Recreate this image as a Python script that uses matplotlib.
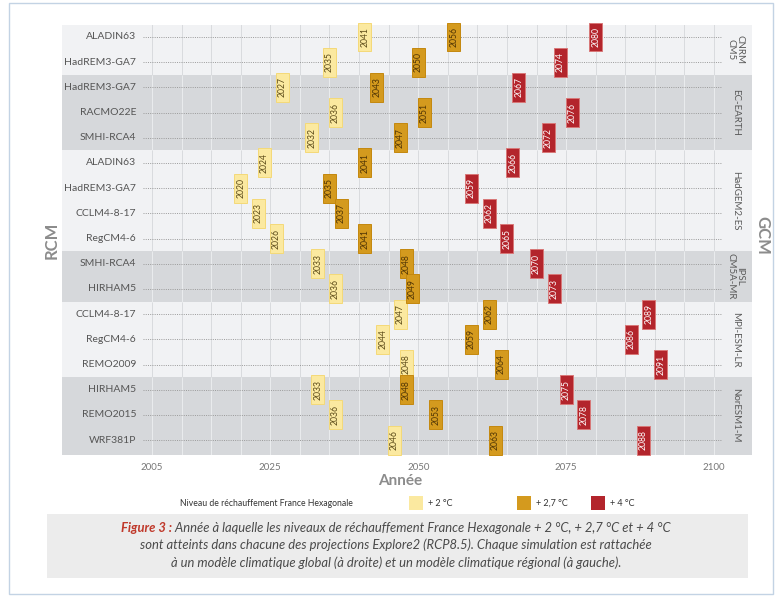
import matplotlib
matplotlib.use("Agg")
import matplotlib.pyplot as plt
from matplotlib.patches import Rectangle

plt.rcParams['font.family'] = ['Lato', 'DejaVu Sans']

# regional models (one per row, top to bottom)
rcm = ["ALADIN63", "HadREM3-GA7", "HadREM3-GA7", "RACMO22E", "SMHI-RCA4",
       "ALADIN63", "HadREM3-GA7", "CCLM4-8-17", "RegCM4-6", "SMHI-RCA4",
       "HIRHAM5", "CCLM4-8-17", "RegCM4-6", "REMO2009", "HIRHAM5",
       "REMO2015", "WRF381P"]
# global models and how many rows each one covers
gcm = ["CNRM\nCM5", "EC-EARTH", "HadGEM2-ES", "IPSL\nCM5A-MR", "MPI-ESM-LR", "NorESM1-M"]
gcm_rows = [2, 3, 4, 2, 3, 3]

year_2 = [2041, 2035, 2027, 2036, 2032, 2024, 2020, 2023, 2026, 2033,
          2036, 2047, 2044, 2048, 2033, 2036, 2046]
year_27 = [2056, 2050, 2043, 2051, 2047, 2041, 2035, 2037, 2041, 2048,
           2049, 2062, 2059, 2064, 2048, 2053, 2063]
year_4 = [2080, 2074, 2067, 2076, 2072, 2066, 2059, 2062, 2065, 2070,
          2073, 2089, 2086, 2091, 2075, 2078, 2088]

levels = ["+ 2 °C", "+ 2,7 °C", "+ 4 °C"]
x_ticks = [2005, 2025, 2050, 2075, 2100]

W, H = 782, 597


def fx(x):
    return x / W


def fy(y):
    return 1 - y / H


fig = plt.figure(figsize=(W / 100, H / 100), dpi=100)
fig.patch.set_facecolor('white')

# outer frame
fig.patches.append(Rectangle((fx(9), fy(594)), fx(764), 591 / H, transform=fig.transFigure,
                             fill=False, ec='#c3d3e4', lw=1.0))

ax = fig.add_axes([fx(62), fy(455), fx(690), 430 / H])
ax.set_xlim(1989.79, 2106.42)
ax.set_ylim(16.59, -0.476)

band_colors = ['#f1f2f4', '#d6d8db']
grid_colors = ['#d9dbde', '#eaecee']
start = 0
for k, n in enumerate(gcm_rows):
    y0 = start - 0.5 if k > 0 else -1
    y1 = start + n - 0.5 if k < len(gcm_rows) - 1 else 17
    ax.axhspan(y0, y1, color=band_colors[k % 2], lw=0, zorder=0)
    ax.vlines(range(2005, 2101, 5), y0, y1, colors=grid_colors[k % 2], lw=0.7, zorder=1)
    ax.text(2103.6, start + (n - 1) / 2, gcm[k], rotation=-90, ha='center', va='center',
            fontsize=7, color='#5a5a5a', linespacing=0.95)
    start += n

rows = list(range(len(rcm)))
ax.hlines(rows, 2003.5, 2101.3, colors='#9a9a9a', linestyles=(0, (1, 1.3)), lw=0.7, zorder=2)
for i, name in enumerate(rcm):
    ax.text(2002.3, i, name, ha='right', va='center', fontsize=7.5, color='#555555')

face = ['#fbe9a0', '#d49a1e', '#b3252c']
edge = ['#f4d978', '#c4880e', '#d87878']
txt = ['#5b4a18', '#4f3405', 'white']
box_w, box_h = 2.2, 1.15
for k, years in enumerate([year_2, year_27, year_4]):
    for i, yr in enumerate(years):
        ax.add_patch(Rectangle((yr - box_w / 2, i - box_h / 2), box_w, box_h,
                               fc=face[k], ec=edge[k], lw=0.7, zorder=4, clip_on=False))
        ax.text(yr, i, str(yr), rotation=90, ha='center', va='center', fontsize=6.2,
                color=txt[k], zorder=5, clip_on=False)

ax.set_xticks(x_ticks)
ax.set_yticks([])
ax.tick_params(axis='x', length=0, labelsize=7, colors='#777777', pad=6)
for s in ax.spines.values():
    s.set_visible(False)

fig.text(fx(400), fy(481), "Année", ha='center', va='center', fontsize=11,
         fontweight='bold', color='#8c8c8c')
fig.text(fx(52), fy(240), "RCM", rotation=90, ha='center', va='center', fontsize=12,
         fontweight='bold', color='#8c8c8c')
fig.text(fx(762), fy(235), "GCM", rotation=-90, ha='center', va='center', fontsize=12,
         fontweight='bold', color='#8c8c8c')

# legend row
fig.text(fx(266), fy(503), "Niveau de réchauffement France Hexagonale", ha='center',
         va='center', fontsize=6.2, color='#333333')
leg_x = [409, 517, 591]
for k, lab in enumerate(levels):
    fig.patches.append(Rectangle((fx(leg_x[k]), fy(510)), fx(14), 14 / H,
                                 transform=fig.transFigure, fc=face[k], ec='none'))
    fig.text(fx(leg_x[k] + 19), fy(503), lab, ha='left', va='center', fontsize=6.5,
             color='#333333')

# caption box
fig.patches.append(Rectangle((fx(47), fy(578)), fx(701), 64 / H, transform=fig.transFigure,
                             fc='#ececec', ec='none'))
cap_kw = dict(fontsize=9.4, style='italic', va='center', color='#4a4a4a')
t1 = fig.text(0, fy(528), "Figure 3 :", color='#c0392b', fontsize=9.4, style='italic',
              fontweight='bold', va='center')
t2 = fig.text(0, fy(528), " Année à laquelle les niveaux de réchauffement France Hexagonale"
              " + 2 °C, + 2,7 °C et + 4 °C", **cap_kw)
fig.canvas.draw()
r = fig.canvas.get_renderer()
w1 = t1.get_window_extent(r).width
w2 = t2.get_window_extent(r).width
x0 = 396 - (w1 + w2) / 2
t1.set_x(fx(x0))
t2.set_x(fx(x0 + w1))
fig.text(fx(396), fy(545), "sont atteints dans chacune des projections Explore2 (RCP8.5)."
         " Chaque simulation est rattachée", ha='center', **cap_kw)
fig.text(fx(396), fy(563), "à un modèle climatique global (à droite) et un modèle"
         " climatique régional (à gauche).", ha='center', **cap_kw)

fig.savefig("out.png", dpi=100)
